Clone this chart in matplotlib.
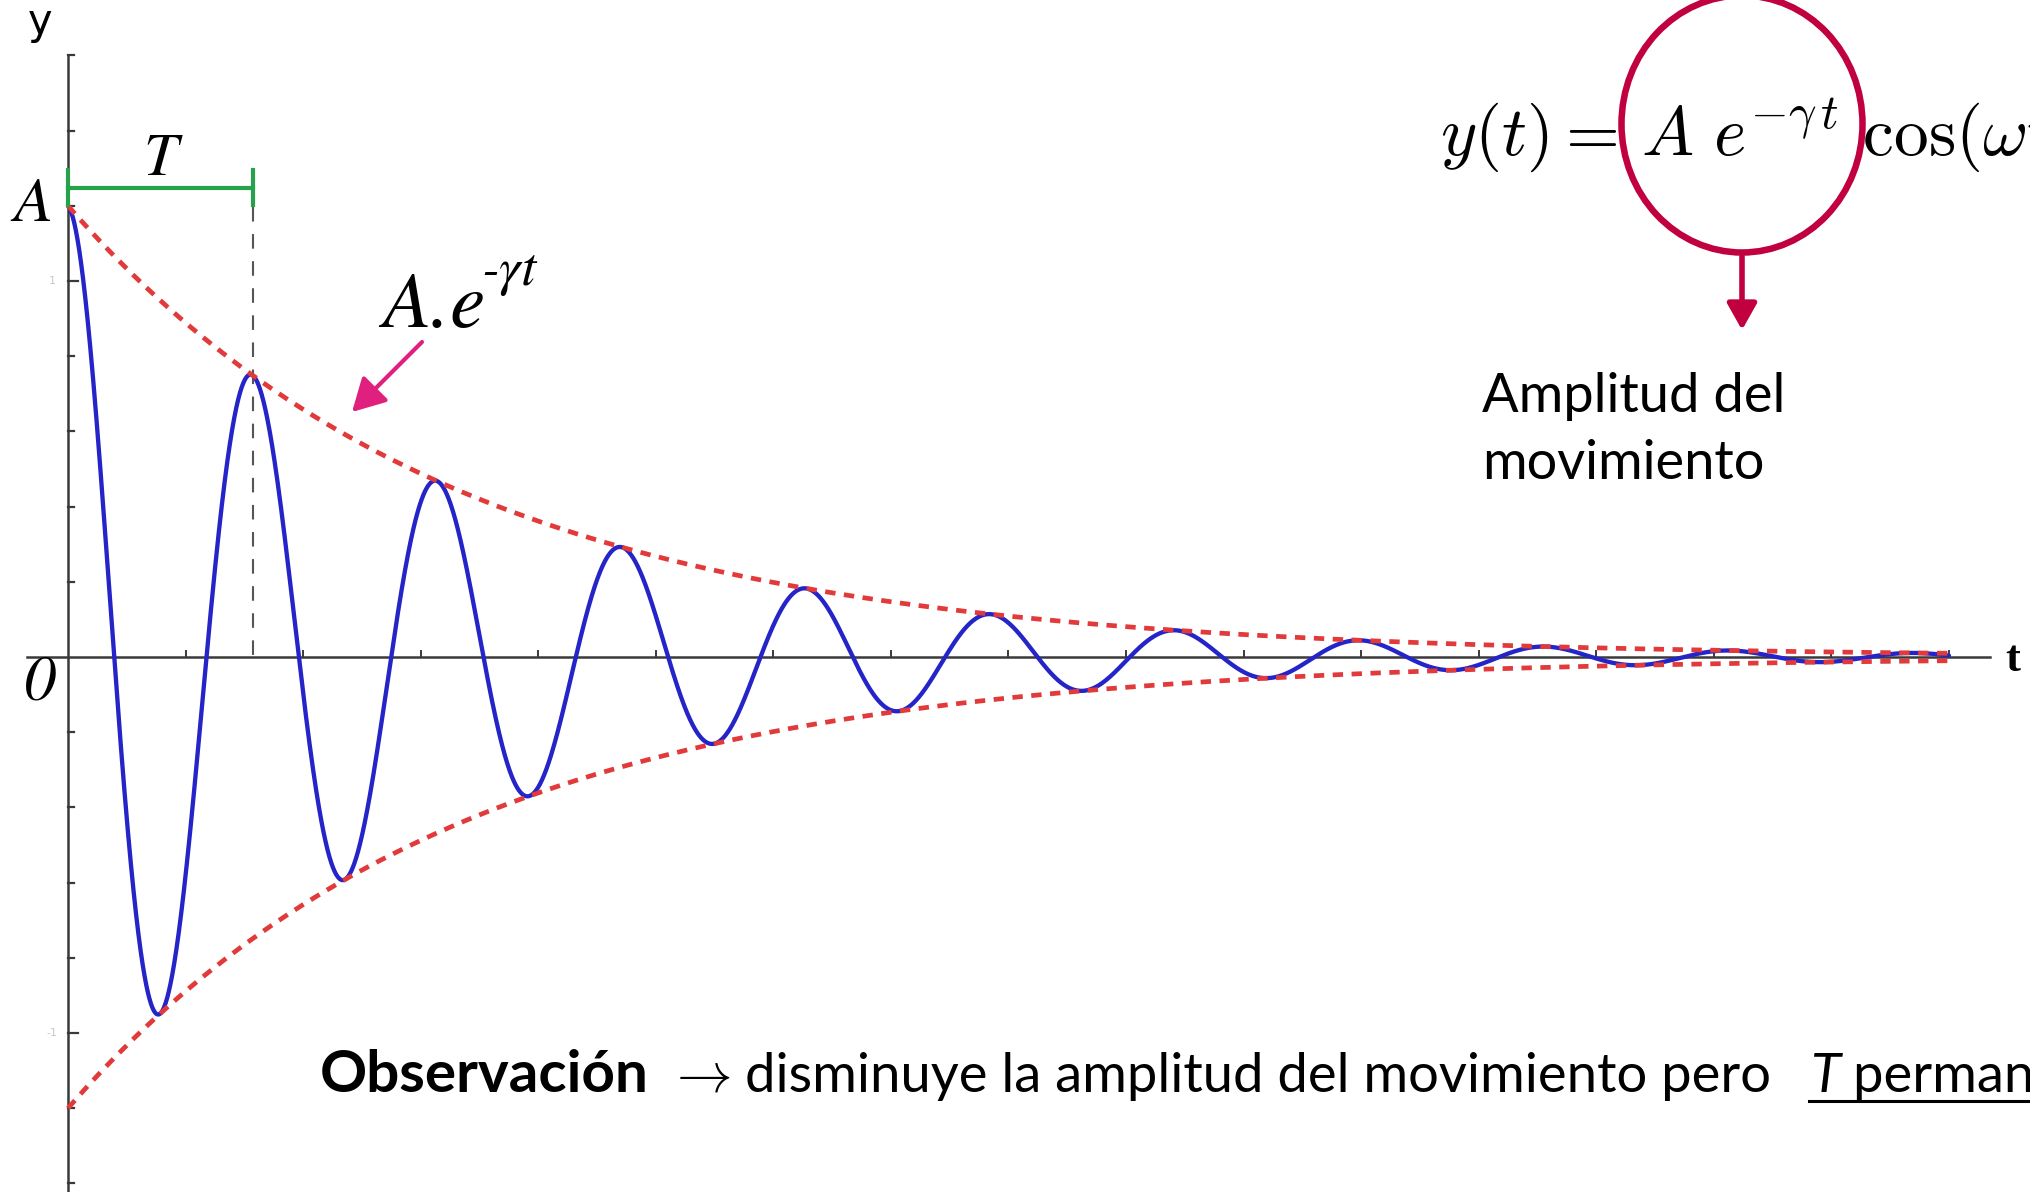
import numpy as np
import matplotlib
matplotlib.use('Agg')
import matplotlib.pyplot as plt
from matplotlib.patches import Ellipse
from matplotlib.lines import Line2D

# ---- values ----
A = 1.2          # initial amplitude
gamma = 0.15     # damping
omega = 2.0      # angular frequency
t_max = 32.0
x_ticks = list(range(2, 33, 2))
y_ticks = [round(0.2 * k, 1) for k in range(-7, 9) if k != 0]
faint_labels = {1.0: '1', -1.0: '-1'}

t = np.linspace(0, t_max, 5000)
envelope = A * np.exp(-gamma * t)
y = envelope * np.cos(omega * t)
T = 2 * np.pi / omega

W, H = 2031, 1192
fig = plt.figure(figsize=(W / 100, H / 100), dpi=100)
ax = fig.add_axes([0, 0, 1, 1])
ax.set_axis_off()
x0px, y0px = 68, 657
sx, sy = 58.78, 376.0
ax.set_xlim(-x0px / sx, (W - x0px) / sx)
ax.set_ylim(-(H - y0px) / sy, y0px / sy)

def px2x(p):
    return (p - x0px) / sx

def py2y(p):
    return (y0px - p) / sy

axcol = '#3a3a3a'
# axes
ax.plot([px2x(27), px2x(1990)], [0, 0], color=axcol, lw=1.8, zorder=1)
ax.plot([0, 0], [py2y(55), py2y(1200)], color=axcol, lw=1.8, zorder=1)
for xt in x_ticks:
    ax.plot([xt, xt], [0, 6 / sy], color=axcol, lw=1.4, zorder=1)
for yt in y_ticks:
    L = 10 if abs(yt) == 1.0 else 6
    ax.plot([0, L / sx], [yt, yt], color=axcol, lw=1.6, zorder=1)
for v, s in faint_labels.items():
    ax.text(px2x(52), v, s, color='#c8c8c8', fontsize=8, ha='center', va='center')

# curve and envelopes
ax.plot(t, y, color='#2424c8', lw=3.1, zorder=2, solid_capstyle='round')
ax.plot(t, envelope, color='#e23a3a', lw=3.4, ls=(0, (2.2, 1.8)), zorder=3)
ax.plot(t, -envelope, color='#e23a3a', lw=3.4, ls=(0, (2.2, 1.8)), zorder=3)

# period marker
gcol = '#27a24c'
ax.plot([0, T], [py2y(188)] * 2, color=gcol, lw=3, zorder=4)
for xx in (0, T):
    ax.plot([xx, xx], [py2y(170), py2y(205)], color=gcol, lw=3, zorder=4)
ax.plot([T, T], [py2y(207), 0], color='#555555', lw=1.5, ls=(0, (7, 6)), zorder=1)

renderer = fig.canvas.get_renderer()

# labels
fig.text(40 / W, 1 - 22 / H, 'y', fontsize=30, family='DejaVu Sans', ha='center', va='center')
fig.text(33 / W, 1 - 206 / H, 'A', fontsize=46, family='STIXGeneral', style='italic', ha='center', va='center')
fig.text(40 / W, 1 - 684 / H, '0', fontsize=46, family='STIXGeneral', style='italic', ha='center', va='center')
fig.text(160 / W, 1 - 160 / H, 'T', fontsize=44, family='STIXGeneral', style='italic', ha='center', va='center')
fig.text(2013 / W, 1 - 660 / H, 't', fontsize=32, family='Liberation Serif', weight='bold', ha='center', va='center')
ae = fig.text(382 / W, 1 - 327 / H, 'A.e', fontsize=57, family='STIXGeneral', style='italic',
              ha='left', va='baseline')
aebb = ae.get_window_extent(renderer)
fig.text((aebb.x1 - 4) / W, 1 - 285 / H, '-\u03b3t', fontsize=39, family='STIXGeneral', style='italic',
         ha='left', va='baseline')

pink = '#e0207f'
ax.annotate('', xy=(px2x(352), py2y(412)), xytext=(px2x(422), py2y(342)),
            arrowprops=dict(arrowstyle='-|>,head_length=1.0,head_width=0.55', color=pink, lw=3,
                            shrinkA=0, shrinkB=0, mutation_scale=20))

# formula with circle
fig.text(1440 / W, 1 - 155 / H, r'$y(t) =\,A\ e^{-\gamma\, t}\ \cos(\omega t+\phi)$', fontsize=50,
         math_fontfamily='cm', ha='left', va='baseline')
crim = '#c1003f'
ax.add_patch(Ellipse((px2x(1742), py2y(124)), 241 / sx, 257 / sy, fill=False, ec=crim, lw=4.7, zorder=5))
ax.annotate('', xy=(px2x(1742), py2y(330)), xytext=(px2x(1742), py2y(256)),
            arrowprops=dict(arrowstyle='-|>,head_length=0.8,head_width=0.45', color=crim, lw=4,
                            shrinkA=0, shrinkB=0, mutation_scale=20))

fig.text(1482 / W, 1 - 412 / H, 'Amplitud del', fontsize=39, family='Lato', ha='left', va='baseline')
fig.text(1482 / W, 1 - 479 / H, 'movimiento', fontsize=39, family='Lato', ha='left', va='baseline')

# bottom note, built piece by piece
base = 1092
pieces = [
    ('Observación', dict(family='Lato', weight='bold', fontsize=42), 18),
    (r'$\rightarrow$', dict(math_fontfamily='cm', fontsize=40), 14),
    ('disminuye la amplitud del movimiento pero', dict(family='Lato', fontsize=39.2), 40),
    ('T', dict(family='Lato', style='italic', fontsize=39.5), 12),
    ('permanece constante', dict(family='Lato', fontsize=39.2), 0),
]
x = 320
ext = []
for s, kw, gap in pieces:
    tx = fig.text(x / W, 1 - base / H, s, ha='left', va='baseline', **kw)
    bb = tx.get_window_extent(renderer)
    ext.append(bb)
    x = bb.x1 + gap
ux0 = ext[3].x0 - 2
fig.add_artist(Line2D([ux0 / W, 1.0], [1 - (base + 9) / H] * 2, color='black', lw=2.2,
                      transform=fig.transFigure))

fig.savefig('out.png', dpi=100, facecolor='white')
